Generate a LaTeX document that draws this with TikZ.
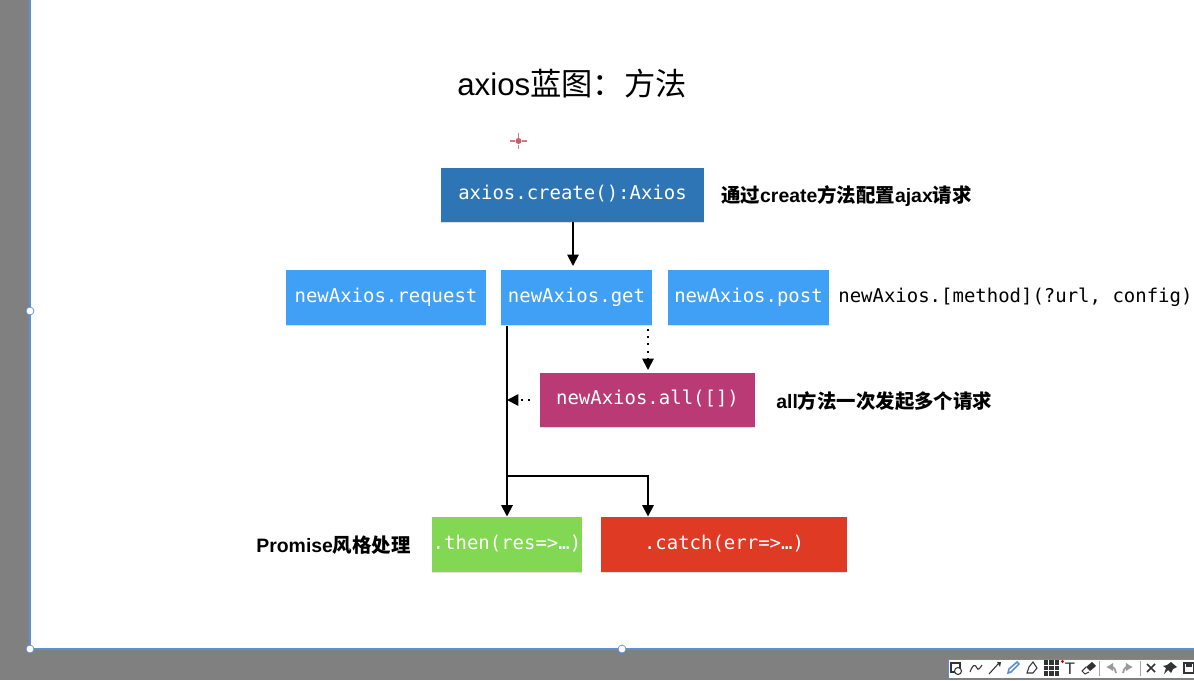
\documentclass[tikz,border=0pt]{standalone}
\usepackage{fontspec}
\setmainfont{Liberation Sans}
\setmonofont{DejaVu Sans Mono}
\newfontfamily\cjk{Noto Sans CJK SC}
\usepackage{tikz}
\usetikzlibrary{arrows.meta}
\usetikzlibrary{shadows}
\definecolor{framegray}{HTML}{808080}
\definecolor{frameblue}{HTML}{5B8FD6}
\definecolor{createblue}{HTML}{2E75B6}
\definecolor{methodblue}{HTML}{40A0F6}
\definecolor{allred}{HTML}{B93A75}
\definecolor{thengreen}{HTML}{82D852}
\definecolor{catchred}{HTML}{DF3A24}
\definecolor{markred}{HTML}{C2404F}
\definecolor{iconblack}{HTML}{333333}
\tikzset{
  codebox/.style={text=white,inner sep=0pt,minimum height=1.09cm,
    text height=8pt,text depth=2.6pt,
    font=\ttfamily\fontsize{10.8}{13}\selectfont,
    drop shadow={shadow xshift=0pt,shadow yshift=-0.6pt,opacity=.25}},
  note/.style={inner sep=0pt,font=\bfseries\fontsize{11.05}{13}\selectfont},
  flow/.style={line width=1.05pt,-{Triangle[length=6.5pt,width=6.5pt]}},
  dotflow/.style={flow,dash pattern=on 1.1pt off 3pt},
  handle/.style={circle,draw=frameblue,fill=white,inner sep=0pt,minimum size=4.5pt},
  icon/.style={iconblack,line width=0.6pt}
}
\begin{document}
\begin{tikzpicture}[x=0.02cm,y=-0.02cm]
      \useasboundingbox (0,0) rectangle (1194,680);

      \fill [framegray] (0,0) rectangle (1194,680);
      \fill [white] (30,0) rectangle (1194,649);
      \draw [frameblue,thick] (30,0) -- (30,649) -- (1194,649);
      \node [handle] (handleleft) at (30,311) {};
      \node [handle] (handlecorner) at (30,649) {};
      \node [handle] (handlebottom) at (622,649) {};

      \node [inner sep=0pt,font=\fontsize{17.8}{20}\selectfont] (title) at (572,84) {axios{\cjk 蓝图：方法}};

      % the small red mark under the title
      \fill [markred!85] (518.5,141) circle (3);
      \draw [markred!70,line width=1pt] (510,141) -- (515,141) (522,141) -- (527,141)
        (518.5,133) -- (518.5,137.5) (518.5,144.5) -- (518.5,149);

      \node [codebox,fill=createblue,minimum width=5.26cm] (create) at (572.5,195) {axios.create():Axios};
      \node [note,anchor=west] (createnote) at (721,196.5) {{\cjk 通过}create{\cjk 方法配置}ajax{\cjk 请求}};

      \node [codebox,fill=methodblue,minimum width=4cm] (request) at (386,297.5) {newAxios.request};
      \node [codebox,fill=methodblue,minimum width=3.02cm] (get) at (576.5,297.5) {newAxios.get};
      \node [codebox,fill=methodblue,minimum width=3.22cm] (post) at (748.5,297.5) {newAxios.post};
      \node [anchor=west,inner sep=0pt,font=\ttfamily\fontsize{10.8}{13}\selectfont] (signature) at (838,297) {newAxios.[method](?url, config)};

      \node [codebox,fill=allred,minimum width=4.3cm] (all) at (647.5,400) {newAxios.all([])};
      \node [note,anchor=west] (allnote) at (776,401) {all{\cjk 方法一次发起多个请求}};

      \node [codebox,fill=thengreen,minimum width=3cm] (then) at (507,544.5) {.then(res=>…)};
      \node [codebox,fill=catchred,minimum width=4.92cm] (catch) at (724,544.5) {.catch(err=>…)};
      \node [note,anchor=east] (thennote) at (411,545) {Promise{\cjk 风格处理}};

      \coordinate (createout) at (573,222);
      \coordinate (getin) at (573,266);
      \coordinate (mainout) at (507,325.5);
      \coordinate (mainin) at (507,516.5);
      \coordinate (allout) at (648,329);
      \coordinate (allin) at (648,370);
      \coordinate (catchin) at (648,516.5);
      \coordinate (split) at (507,476);
      \coordinate (merge) at (507,400);

      \draw [flow] (createout) -- (getin);
      \draw [flow] (mainout) -- (mainin);
      \draw [flow] (split) -| (catchin);
      \draw [dotflow] (allout) -- (allin);
      \draw [dotflow] (530,400) -- (merge);

      % toolbar
      \fill [white] (948,659) rectangle (1194,678);
      \draw [frameblue] (948,678) -- (948,659) -- (1194,659);
      \draw [icon] (951,663) rectangle (960,672);
      \draw [icon,fill=white] (958,671) circle (3.5);
      \draw [icon] (970,672) .. controls (973,664) and (975,664) .. (977,668) .. controls (978,671) and (980,668) .. (982,665);
      \draw [icon] (989,674) -- (999,663);
      \fill [iconblack] (997,662) -- (1001,662) -- (1000,667) -- cycle;
      \draw [frameblue,line width=0.9pt] (1008,673) -- (1009,669) -- (1017,662) -- (1019,664) -- (1011,672) -- cycle;
      \draw [icon] (1027,673) -- (1029,667) -- (1033,662) -- (1037,668) -- (1033,673) -- cycle;
      \foreach \gridx in {1046,1051.5,1057}
        \foreach \gridy in {662.5,668,673.5}
          \fill [iconblack] (\gridx-2.3,\gridy-2.3) rectangle +(4.6,4.6);
      \fill [red!80!black] (1062.5,661.5) circle (1.6);
      \node [inner sep=0pt,text=iconblack,font=\fontsize{9.5}{10}\selectfont] (tooltext) at (1070,668.5) {T};
      \fill [iconblack] (1086,667) -- (1092,662) -- (1096,666) -- (1090,671) -- cycle;
      \draw [icon] (1086,667) -- (1082,671) -- (1085,674) -- (1089,672);
      \draw [gray!70] (1099.5,661) -- (1099.5,676);
      \draw [gray!80,line width=1pt,-{Latex[length=4pt,width=5pt]}] (1116,673) .. controls (1115,667) and (1112,667) .. (1106,667);
      \draw [gray!80,line width=1pt,-{Latex[length=4pt,width=5pt]}] (1123,673) .. controls (1124,667) and (1127,667) .. (1133,667);
      \draw [gray!70] (1140.5,661) -- (1140.5,676);
      \draw [iconblack,line width=0.9pt] (1147,664) -- (1155,672) (1155,664) -- (1147,672);
      \fill [iconblack] (1171,662) -- (1177,667) -- (1173,669) -- (1171,673) -- (1168,670) -- (1164,674) -- (1166,668) -- (1163,666) -- (1167,665) -- cycle;
      \draw [iconblack,line width=1.2pt] (1184,663) rectangle (1194,673);
      \fill [iconblack] (1186,663) rectangle (1192,667);

    \end{tikzpicture}
\end{document}
